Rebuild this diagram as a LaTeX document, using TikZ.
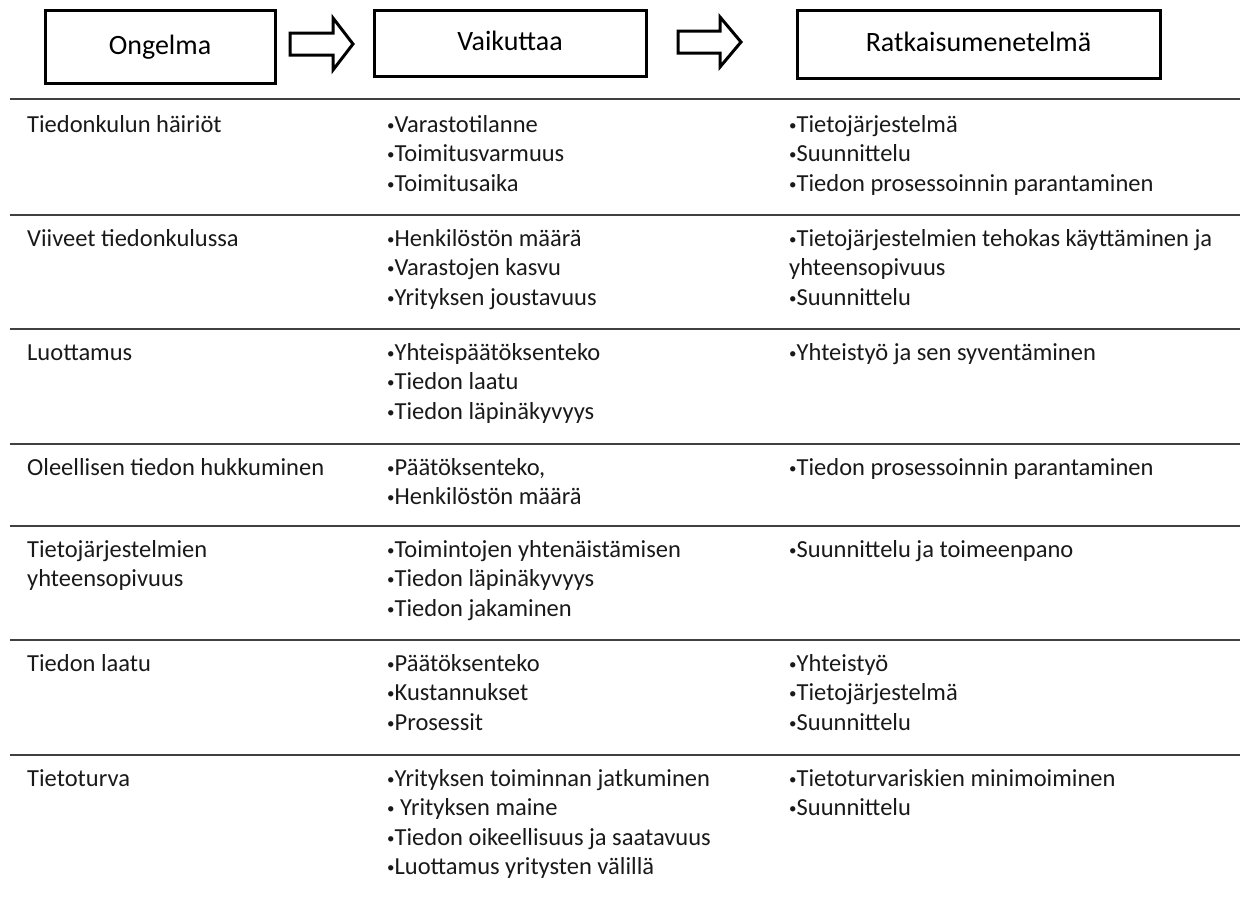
\documentclass[tikz,border=0pt]{standalone}
\usepackage{fontspec}
\setmainfont{Carlito}
% small list bullet
\newcommand\bul{{\fontsize{15}{15}\selectfont\raisebox{2.2pt}{•}}}
\begin{document}
\begin{tikzpicture}[x=1pt,y=-1pt,
  hdr/.style={draw=black, line width=3pt, font=\fontsize{28}{34}\selectfont,
    inner sep=0pt, text height=20pt, text depth=6pt},
  cell/.style={anchor=north west, inner sep=0pt, align=left,
    font=\fontsize{24.5}{29.5}\selectfont, text=black!90},
  rule/.style={line width=2.6pt, draw=black!75},
  blockarrow/.style={draw=black, line width=3pt, fill=white, line join=miter}]
\useasboundingbox (0,0) rectangle (1247,900);

% header boxes
\node[hdr, minimum width=230, minimum height=73] (ong) at (160,47) {Ongelma};
\node[hdr, minimum width=272, minimum height=66] (vai) at (510,43.5) {Vaikuttaa};
\node[hdr, minimum width=363, minimum height=68] (rat) at (978.5,44.5) {Ratkaisumenetelmä};

% block arrows between the header boxes
\draw[blockarrow] (290,33) -- (333,33) -- (333,18) -- (353,44) -- (333,70) -- (333,55) -- (290,55) -- cycle;
\draw[blockarrow] (678,31) -- (720,31) -- (720,17) -- (741,42) -- (720,67) -- (720,53) -- (678,53) -- cycle;

% table rules
\foreach \y in {99,215,329,444,526,640,755}
  \draw[rule] (10,\y) -- (1240,\y);

% row 1
\node[cell] (r1a) at (27,111.35) {\strut Tiedonkulun häiriöt};
\node[cell] (r1b) at (387,111.35) {\strut\bul Varastotilanne\\\bul Toimitusvarmuus\\\bul Toimitusaika};
\node[cell] (r1c) at (789,111.35) {\strut\bul Tietojärjestelmä\\\bul Suunnittelu\\\bul Tiedon prosessoinnin parantaminen};
% row 2
\node[cell] (r2a) at (27,225.35) {\strut Viiveet tiedonkulussa};
\node[cell] (r2b) at (387,225.35) {\strut\bul Henkilöstön määrä\\\bul Varastojen kasvu\\\bul Yrityksen joustavuus};
\node[cell] (r2c) at (789,225.35) {\strut\bul Tietojärjestelmien tehokas käyttäminen ja\\yhteensopivuus\\\bul Suunnittelu};
% row 3
\node[cell] (r3a) at (27,339.35) {\strut Luottamus};
\node[cell] (r3b) at (387,339.35) {\strut\bul Yhteispäätöksenteko\\\bul Tiedon laatu\\\bul Tiedon läpinäkyvyys};
\node[cell] (r3c) at (789,339.35) {\strut\bul Yhteistyö ja sen syventäminen};
% row 4
\node[cell] (r4a) at (27,454.35) {\strut Oleellisen tiedon hukkuminen};
\node[cell] (r4b) at (387,454.35) {\strut\bul Päätöksenteko,\\\bul Henkilöstön määrä};
\node[cell] (r4c) at (789,454.35) {\strut\bul Tiedon prosessoinnin parantaminen};
% row 5
\node[cell] (r5a) at (27,536.35) {\strut Tietojärjestelmien\\yhteensopivuus};
\node[cell] (r5b) at (387,536.35) {\strut\bul Toimintojen yhtenäistämisen\\\bul Tiedon läpinäkyvyys\\\bul Tiedon jakaminen};
\node[cell] (r5c) at (789,536.35) {\strut\bul Suunnittelu ja toimeenpano};
% row 6
\node[cell] (r6a) at (27,650.35) {\strut Tiedon laatu};
\node[cell] (r6b) at (387,650.35) {\strut\bul Päätöksenteko\\\bul Kustannukset\\\bul Prosessit};
\node[cell] (r6c) at (789,650.35) {\strut\bul Yhteistyö\\\bul Tietojärjestelmä\\\bul Suunnittelu};
% row 7
\node[cell] (r7a) at (27,765.35) {\strut Tietoturva};
\node[cell] (r7b) at (387,765.35) {\strut\bul Yrityksen toiminnan jatkuminen\\\bul\ Yrityksen maine\\\bul Tiedon oikeellisuus ja saatavuus\\\bul Luottamus yritysten välillä};
\node[cell] (r7c) at (789,765.35) {\strut\bul Tietoturvariskien minimoiminen\\\bul Suunnittelu};
\end{tikzpicture}
\end{document}
